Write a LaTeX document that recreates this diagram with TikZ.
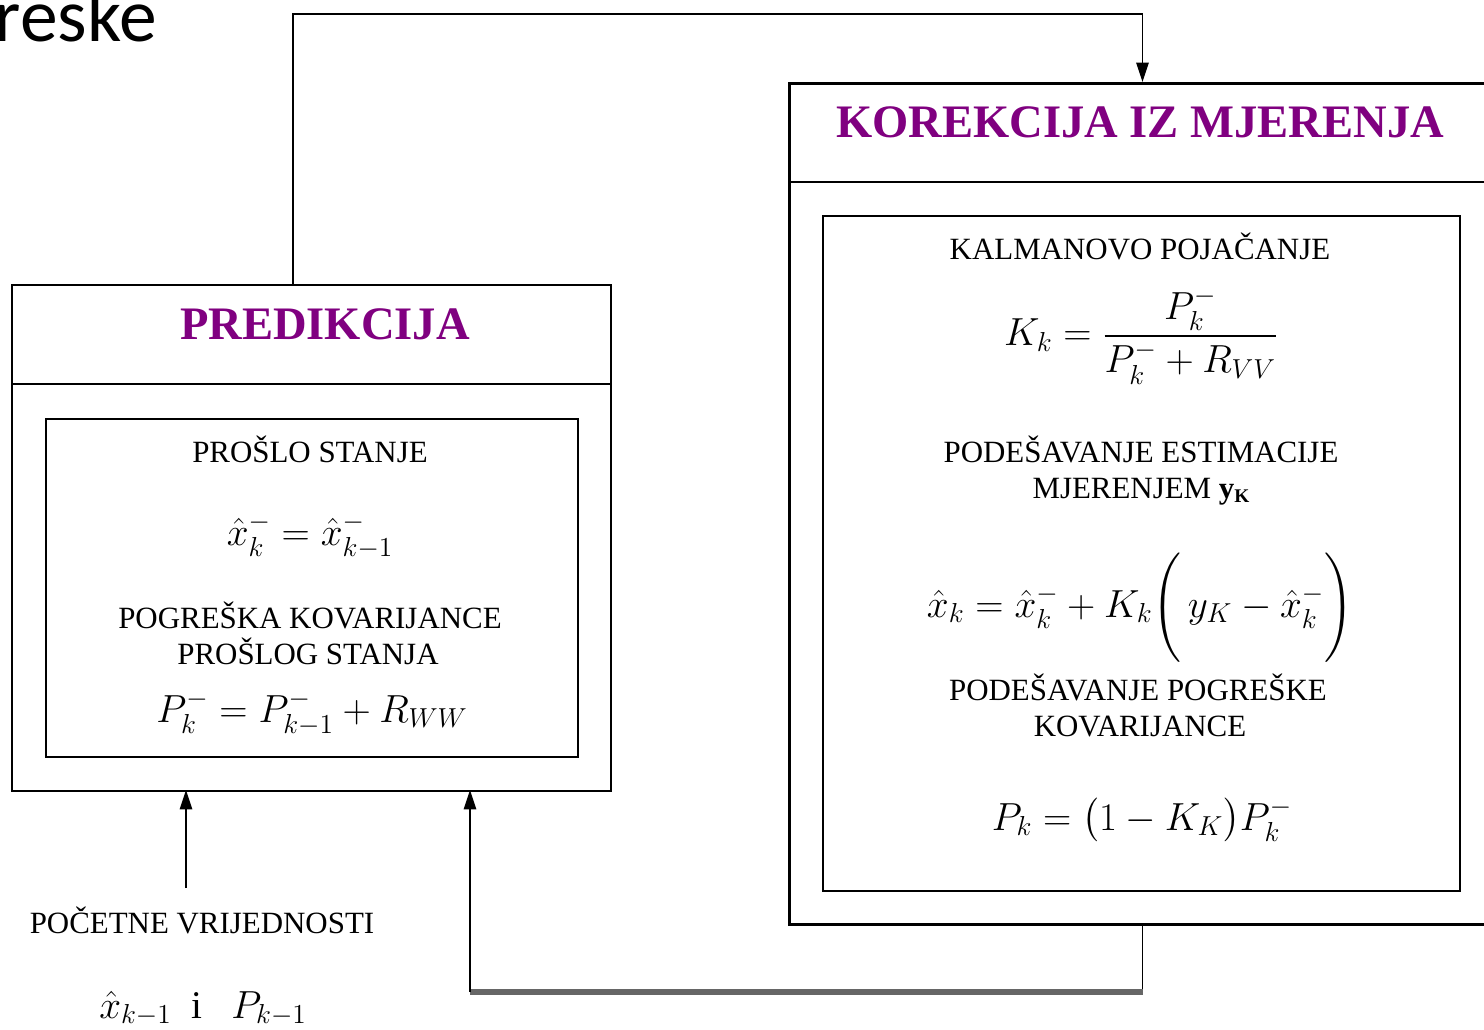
\documentclass[tikz,border=0pt]{standalone}
\usepackage{fix-cm}
\usepackage{fontspec}
\usepackage{amsmath}
\setmainfont{Liberation Serif}
\newfontfamily\carlito{Carlito}
\usetikzlibrary{arrows.meta}
\definecolor{titlepurple}{HTML}{800080}
\newlength\upx
\setlength\upx{0.02cm}
\tikzset{
  titletext/.style={anchor=base, inner sep=0pt, font=\fontsize{26.5}{30}\selectfont\bfseries\color{titlepurple}},
  bodytext/.style={anchor=base, inner sep=0pt, font=\fontsize{17.6}{21}\selectfont},
  mathtext/.style={anchor=base, inner sep=0pt, font=\fontsize{22.3}{26}\selectfont},
  conn/.style={line width=0.9pt, -{Triangle[length=11pt,width=7pt]}},
}
\begin{document}
\begin{tikzpicture}[x=0.02cm, y=-0.02cm]
\useasboundingbox (0,0) rectangle (1484,1030);
\clip (0,0) rectangle (1484,1030);

% cut-off heading text
\node[anchor=base east, inner sep=0pt, font=\carlito\fontsize{43}{50}\selectfont] (head) at (157,42) {reske};

% PREDIKCIJA box
\node[draw, line width=1.2pt, minimum width=599\upx, minimum height=506\upx, inner sep=0pt, anchor=north west] (pred) at (11,284) {};
\draw[line width=1.2pt] (11,384) coordinate (pdl) -- (610,384) coordinate (pdr);
\node[draw, line width=1.1pt, minimum width=532\upx, minimum height=338\upx, inner sep=0pt, anchor=north west] (predin) at (45,418) {};
\node[titletext] (predt) at (325,340) {PREDIKCIJA};
\node[bodytext] (p1) at (310,462) {PROŠLO STANJE};
\node[mathtext] (p2) at (310,545) {$\hat{x}_k^{-} = \hat{x}_{k-1}^{-}$};
\node[bodytext] (p3) at (310,628) {POGREŠKA KOVARIJANCE};
\node[bodytext] (p4) at (308,664) {PROŠLOG STANJA};
\node[mathtext] (p5) at (312,722) {$P_k^{-} = P_{k-1}^{-} + R_{WW}$};

% KOREKCIJA box
\node[draw, line width=1.7pt, minimum width=706\upx, minimum height=841\upx, inner sep=0pt, anchor=north west] (kor) at (788,82) {};
\draw[line width=1.7pt] (788,182) coordinate (kdl) -- (1494,182) coordinate (kdr);
\node[draw, line width=1.1pt, minimum width=637\upx, minimum height=675\upx, inner sep=0pt, anchor=north west] (korin) at (822,215) {};
\node[titletext] (kort) at (1140,138) {KOREKCIJA IZ MJERENJA};
\node[bodytext] (k1) at (1140,260) {KALMANOVO POJAČANJE};
\node[mathtext, anchor=center] (k2) at (1141,336) {$K_k = \dfrac{P_k^{-}}{P_k^{-} + R_{VV}}$};
\node[bodytext] (k3) at (1141,462) {PODEŠAVANJE ESTIMACIJE};
\node[bodytext] (k4) at (1141,498) {MJERENJEM \textbf{y}\raisebox{-0.3ex}{\fontsize{11}{12}\selectfont\textbf{K}}};
\node[mathtext] (k5) at (1140,617) {$\hat{x}_k = \hat{x}_k^{-} + K_k \Biggl(\, y_K - \hat{x}_k^{-} \Biggr)$};
\node[bodytext] (k6) at (1138,700) {PODEŠAVANJE POGREŠKE};
\node[bodytext] (k7) at (1140,736) {KOVARIJANCE};
\node[mathtext] (k8) at (1142,830) {$P_k = \bigl(1 - K_K\bigr) P_k^{-}$};

% initial values
\node[bodytext] (init) at (202,933) {POČETNE VRIJEDNOSTI};
\node[mathtext] (initm) at (203,1018) {$\hat{x}_{k-1}\ \ \mathrm{i}\ \ \ P_{k-1}$};

% connectors
\coordinate (a0) at (293,284);
\coordinate (a1) at (293,14);
\draw[conn] (a0) -- (a1) -| (kor.north);

\coordinate (b2) at (470,992);
\coordinate (b3) at (470,790);
\draw[line width=0.9pt] (kor.south) |- (b2);
\draw[gray!80!black, line width=3.5pt] (kor.south |- b2) -- (b2);
\draw[conn] (b2) -- (b3);

\coordinate (c0) at (186,888);
\coordinate (c1) at (186,790);
\draw[conn] (c0) -- (c1);
\end{tikzpicture}
\end{document}
